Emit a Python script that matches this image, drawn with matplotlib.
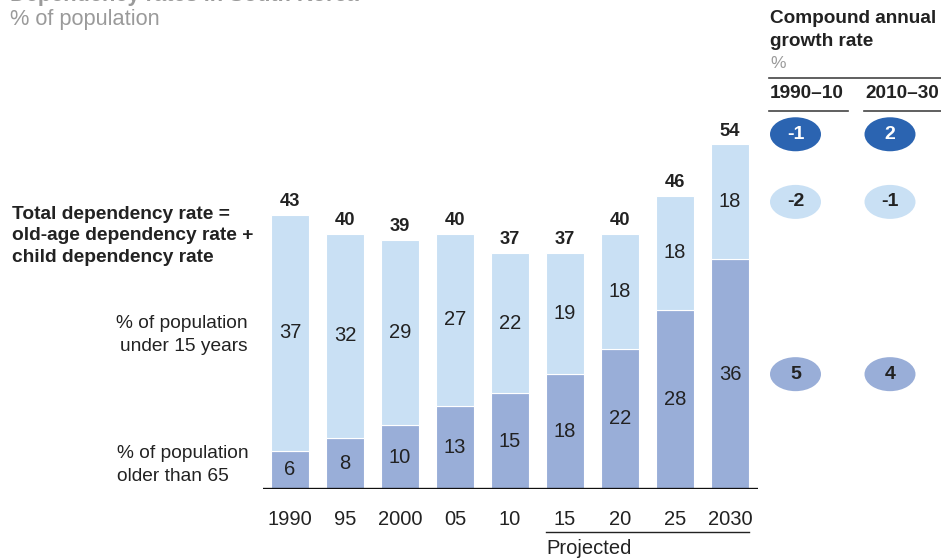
import matplotlib
matplotlib.use("Agg")
import matplotlib.pyplot as plt
from matplotlib.patches import Ellipse
from matplotlib.transforms import blended_transform_factory

plt.rcParams['font.family'] = ['Liberation Sans', 'DejaVu Sans']

# ---- data ----
years = ["1990", "95", "2000", "05", "10", "15", "20", "25", "2030"]
old_age = [6, 8, 10, 13, 15, 18, 22, 28, 36]
child = [37, 32, 29, 27, 22, 19, 18, 18, 18]
total = [43, 40, 39, 40, 37, 37, 40, 46, 54]
cagr_periods = ["1990–10", "2010–30"]
cagr_total = [-1, 2]
cagr_child = [-2, -1]
cagr_old = [5, 4]
projected_from = 5  # index of first projected year

# ---- style ----
C_LIGHT = "#C9E0F4"
C_MID = "#99AED8"
C_DARK = "#2B64B1"
TXT = "#222222"
GRAY = "#9A9A9A"
FS = 13.8
FS_BAR = 14.5

W, H = 941, 558
fig = plt.figure(figsize=(W / 100, H / 100), dpi=100)

def fx(x):
    return x / W

def fy(y):
    return 1 - y / H

# main axes: x from -0.5..8.5 spanning px 262.5..757.5, baseline at px 489, 6.38 px/unit
ymax = 60
ax_h = ymax * 6.38
ax = fig.add_axes([fx(262.5), (H - 489) / H, (757.5 - 262.5) / W, ax_h / H])
ax.set_xlim(-0.5, len(years) - 0.5)
ax.set_ylim(0, ymax)
for s in ax.spines.values():
    s.set_visible(False)
ax.set_yticks([])

x = list(range(len(years)))
bw = 0.69
ax.bar(x, old_age, width=bw, color=C_MID, edgecolor="white", linewidth=0.8)
ax.bar(x, child, width=bw, bottom=old_age, color=C_LIGHT, edgecolor="white", linewidth=0.8)
ax.axhline(0, color="#111111", lw=2.4, zorder=5)

for i in x:
    ax.text(i, old_age[i] / 2, str(old_age[i]), ha="center", va="center", fontsize=FS_BAR, color=TXT)
    ax.text(i, old_age[i] + child[i] / 2, str(child[i]), ha="center", va="center", fontsize=FS_BAR, color=TXT)
    ax.annotate(str(total[i]), (i, total[i]), xytext=(0, 3.5), textcoords="offset points",
                ha="center", va="bottom", fontsize=13.2, fontweight="bold", color=TXT)

ax.set_xticks(x)
ax.set_xticklabels(years, fontsize=FS_BAR, color=TXT)
ax.tick_params(axis="x", length=0, pad=15)

# projected bracket
tr = blended_transform_factory(ax.transData, fig.transFigure)
ax.plot([projected_from - bw / 2, len(years) - 1 + bw / 2], [fy(532), fy(532)], color=TXT,
        lw=1.0, transform=tr, clip_on=False)
fig.text(0, 0, "Projected", fontsize=FS_BAR, color=TXT, ha="left", va="center",
         transform=tr).set_position((projected_from - bw / 2, fy(548)))

# title / subtitle (title is cut at the top edge, as in the reference)
fig.text(fx(10), fy(1.5), "Dependency rates in South Korea", fontsize=15.7, fontweight="bold",
         color=GRAY, ha="left", va="baseline")
fig.text(fx(10), fy(20), "% of population", fontsize=15.7, color=GRAY, ha="left", va="center")

# left annotations
fig.text(fx(12), fy(236), "Total dependency rate =\nold-age dependency rate +\nchild dependency rate",
         fontsize=FS, fontweight="bold", color=TXT, ha="left", va="center", linespacing=1.37)
fig.text(fx(248), fy(335), "% of population\nunder 15 years", fontsize=FS, color=TXT,
         ha="right", va="center", linespacing=1.4, multialignment="right")
fig.text(fx(117), fy(465), "% of population\nolder than 65", fontsize=FS, color=TXT,
         ha="left", va="center", linespacing=1.4, multialignment="left")

# right panel header
fig.text(fx(770), fy(30), "Compound annual\ngrowth rate", fontsize=13.7, fontweight="bold",
         color=TXT, ha="left", va="center", linespacing=1.42)
fig.text(fx(770), fy(64), "%", fontsize=12.5, color=GRAY, ha="left", va="center")
fig.add_artist(plt.Line2D([fx(769), fx(941)], [fy(78), fy(78)], color="#444444", lw=1.2))
col_x = [770, 865]
col_line = [(769, 848), (864, 941)]
for cx, (l0, l1), lab in zip(col_x, col_line, cagr_periods):
    fig.text(fx(cx), fy(94), lab, fontsize=13.7, fontweight="bold", color=TXT, ha="left", va="center")
    fig.add_artist(plt.Line2D([fx(l0), fx(l1)], [fy(111), fy(111)], color="#444444", lw=1.2))

# bubbles, rows aligned with the 2030 bar
last = len(years) - 1
row_y = [total[last] + 1.6, old_age[last] + child[last] / 2, old_age[last] / 2]
rows = [(cagr_total, C_DARK, "white"), (cagr_child, C_LIGHT, TXT), (cagr_old, C_MID, TXT)]
bub_px = [795.5, 890]
ew = 51 / 55
eh = 34 / 6.38
for ry, (vals, fc, tc) in zip(row_y, rows):
    for bx, v in zip(bub_px, vals):
        xd = (bx - 290) / 55
        ax.add_patch(Ellipse((xd, ry), ew, eh, facecolor=fc, edgecolor="none", clip_on=False))
        ax.text(xd, ry, str(v), ha="center", va="center", fontsize=14, fontweight="bold",
                color=tc, clip_on=False)

fig.savefig("out.png", dpi=100)
